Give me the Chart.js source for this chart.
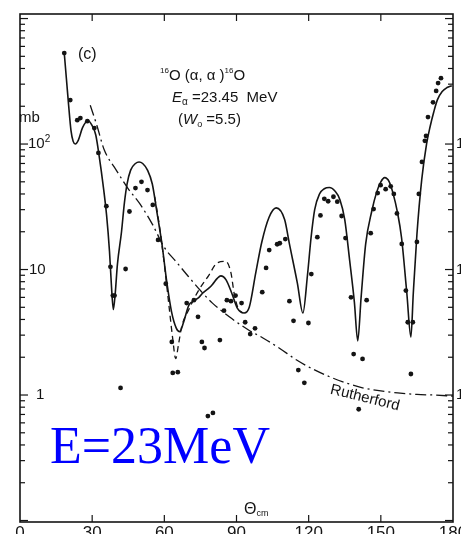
<!DOCTYPE html>
<html>
<head>
<meta charset="utf-8">
<script src="https://cdn.jsdelivr.net/npm/chart.js@4.4.0/dist/chart.umd.min.js"></script>
<style>
  html, body { margin: 0; padding: 0; background: #fff; overflow: hidden; }
  canvas { display: block; }
</style>
</head>
<body>
<canvas id="xsec" width="470" height="545"></canvas>
<script>
// 16O(alpha,alpha)16O elastic scattering, E_alpha = 23.45 MeV

// axis ticks
const xTicks = [0, 30, 60, 90, 120, 150, 180];
const xInnerTicks = [30, 60, 90, 120, 150];
const yDecades = [1, 10, 100];

// optical model fit (solid)
const thetaFit = [18.4, 19.3, 20.2, 21.2, 22.1, 23, 24.3, 26, 28.3, 30, 31.5, 33, 34.5, 36, 37.2, 38, 38.8, 39.6, 40.5, 42.2, 43.4, 44.5, 46, 48, 49.5, 51, 53, 55, 57, 59, 61, 63, 65, 66.4, 68, 70.2, 72, 74.4, 76, 78.5, 80, 82, 83.5, 85.6, 88, 90.4, 93.2, 95.3, 98, 100.5, 103.5, 106.5, 110, 112, 115.3, 117.6, 119.5, 121, 122.5, 124.5, 126.5, 128.6, 131, 133, 135, 137, 139, 140.4, 141.8, 143.7, 146.2, 148.2, 150, 151.6, 153.5, 155, 157, 158.6, 160.8, 162.5, 163.5, 165, 167, 169, 170.5, 172, 173.5, 175.5, 177.5, 179.5];
const sigmaFit = [530, 330, 205, 128, 105, 100, 108, 135, 154, 140, 118, 78, 48, 27, 14, 7.5, 4.8, 6.5, 11, 20, 34, 48, 62, 70, 72, 70, 62, 48, 28, 16, 8, 4.6, 3.4, 3.2, 3.8, 5.2, 5.6, 6.0, 6.5, 7.1, 7.6, 8.5, 8.9, 8.3, 6.5, 4.9, 4.5, 5.0, 9.4, 16.5, 26, 31, 25, 16, 7.8, 4.5, 9, 18, 30, 40, 44, 45, 42, 36, 25, 12, 5.5, 2.7, 6, 16, 29, 41, 50, 54, 50, 41, 28, 18, 6.5, 2.9, 6.5, 19, 52, 100, 138, 180, 225, 262, 282, 292];

// second fit (dashed), only where it departs from the solid one
const thetaAlt = [56, 58, 60, 62, 63.5, 64.7, 66, 67.2, 70.2, 74.4, 78.5, 82, 85.5, 87.7, 89, 90.5, 92.5];
const sigmaAlt = [38, 22, 11, 5, 2.8, 1.95, 2.6, 3.5, 4.8, 6.9, 9, 11.3, 11.6, 9.4, 6.5, 5.0, 4.5];

// Rutherford cross section (dash-dot)
const thetaRuth = [29.2, 32, 35, 40, 45, 50, 55, 60, 65, 70, 75, 80, 87, 95, 101, 108, 115, 122, 129, 136, 142.4, 150, 157, 165, 172, 180];
const sigmaRuth = [204, 140, 90, 62, 44, 33, 23, 15, 11.5, 8.8, 6.8, 5.4, 4.2, 3.3, 2.85, 2.35, 1.9, 1.6, 1.39, 1.24, 1.14, 1.08, 1.04, 1.01, 1.0, 0.98];

// measured points
const thetaExp = [18.4, 20.9, 23.8, 25.1, 28.0, 30.9, 32.6, 35.9, 37.6, 38.6, 39.3, 41.8, 43.9, 45.5, 48.0, 50.5, 53.0, 55.2, 57.4, 60.6, 63.1, 63.5, 65.6, 69.3, 72.3, 74.0, 75.6, 76.7, 78.1, 80.2, 83.1, 84.8, 86.0, 87.7, 89.6, 92.1, 93.6, 95.7, 97.7, 100.7, 102.3, 103.6, 106.9, 108.0, 110.3, 112.0, 113.7, 115.7, 118.2, 119.9, 121.1, 123.6, 124.9, 126.5, 128.1, 130.3, 131.9, 133.7, 135.3, 137.6, 138.7, 140.8, 142.4, 144.1, 145.8, 147.0, 148.7, 149.9, 152.0, 154.1, 155.4, 156.7, 158.7, 160.4, 161.2, 162.5, 163.3, 165.0, 165.8, 167.1, 168.3, 168.8, 169.6, 171.7, 173.0, 173.8, 175.0];
const sigmaExp = [531, 224, 155, 161, 152, 134, 85, 32, 10.5, 6.2, 6.2, 1.14, 10.1, 29, 44.6, 50, 43, 32.7, 17.2, 7.7, 2.65, 1.5, 1.52, 5.4, 5.7, 4.2, 2.65, 2.37, 0.68, 0.72, 2.74, 4.7, 5.7, 5.6, 6.2, 5.4, 3.8, 3.06, 3.4, 6.6, 10.3, 14.3, 15.9, 16.2, 17.5, 5.6, 3.9, 1.58, 1.25, 3.75, 9.2, 18.1, 27, 36.6, 35, 38, 34.7, 26.7, 17.8, 6.0, 2.12, 0.77, 1.94, 5.7, 19.5, 30.3, 40.7, 47, 43.7, 46, 40, 28, 16, 6.8, 3.8, 1.47, 3.8, 16.6, 40, 72, 106, 116, 164, 215, 265, 306, 335];

const toXY = (xs, ys) => xs.map((v, i) => ({ x: v, y: ys[i] }));

const INK = '#141414';
const SANS = '"Liberation Sans", Arial, sans-serif';

function drawRich(ctx, x, y, parts) {
    for (const p of parts) {
        ctx.font = p.f;
        ctx.fillText(p.t, x, y + (p.dy || 0));
        x += ctx.measureText(p.t).width;
    }
}

function decadeParts(v) {
    if (v === 100) {
        return [{ t: '10', f: '15px ' + SANS }, { t: '2', f: '10px ' + SANS, dy: -5 }];
    }
    return [{ t: String(v), f: '15px ' + SANS }];
}

// frame with inward ticks, tick labels and the annotations
const frameAndLabels = {
    id: 'frameAndLabels',
    afterDatasetsDraw(chart) {
        const { ctx, chartArea: a, scales: { x, y } } = chart;
        const seg = (x1, y1, x2, y2) => {
            ctx.beginPath();
            ctx.moveTo(x1, y1);
            ctx.lineTo(x2, y2);
            ctx.stroke();
        };
        ctx.save();
        ctx.strokeStyle = INK;
        ctx.fillStyle = INK;
        ctx.lineWidth = 1.6;
        ctx.strokeRect(a.left, a.top, a.right - a.left, a.bottom - a.top);

        ctx.lineWidth = 1.2;
        for (const t of xInnerTicks) {
            const px = x.getPixelForValue(t);
            seg(px, a.top, px, a.top + 7);
            seg(px, a.bottom, px, a.bottom - 7);
        }
        for (let d = -1; d <= 3; d++) {
            for (let m = 1; m <= 9; m++) {
                const v = m * Math.pow(10, d);
                if (v <= y.min || v >= y.max) continue;
                const py = y.getPixelForValue(v);
                const len = m === 1 ? 8 : 5;
                seg(a.left, py, a.left + len, py);
                seg(a.right, py, a.right - len, py);
            }
        }

        // x tick labels (below the frame)
        ctx.textBaseline = 'top';
        ctx.textAlign = 'center';
        ctx.font = '17px ' + SANS;
        for (const t of xTicks) {
            ctx.fillText(String(t), x.getPixelForValue(t), a.bottom + 3);
        }

        // y tick labels, inside on the left and outside on the right
        ctx.textBaseline = 'middle';
        ctx.textAlign = 'left';
        for (const v of yDecades) {
            const py = y.getPixelForValue(v);
            const lx = v === 100 ? a.left + 8 : (v === 10 ? a.left + 9 : a.left + 16);
            drawRich(ctx, lx, py, decadeParts(v));
            drawRich(ctx, a.right + 3, py, decadeParts(v));
        }
        ctx.font = '15px ' + SANS;
        ctx.fillText('mb', a.left - 1, y.getPixelForValue(100) - 26);

        // axis title
        ctx.textBaseline = 'alphabetic';
        drawRich(ctx, 244, 514, [
            { t: 'Θ', f: '16px ' + SANS },
            { t: 'cm', f: '9px ' + SANS, dy: 2 }
        ]);

        // panel tag and reaction
        ctx.font = '16px ' + SANS;
        ctx.fillText('(c)', 78, 59);
        drawRich(ctx, 160, 80, [
            { t: '16', f: '8px ' + SANS, dy: -7 },
            { t: 'O (α, α )', f: '15px ' + SANS },
            { t: '16', f: '8px ' + SANS, dy: -7 },
            { t: 'O', f: '15px ' + SANS }
        ]);
        drawRich(ctx, 172, 102, [
            { t: 'E', f: 'italic 15px ' + SANS },
            { t: 'α', f: '10px ' + SANS, dy: 3 },
            { t: ' =23.45  MeV', f: '15px ' + SANS }
        ]);
        drawRich(ctx, 178, 124, [
            { t: '(', f: '15px ' + SANS },
            { t: 'W', f: 'italic 15px ' + SANS },
            { t: 'o', f: '9px ' + SANS, dy: 3 },
            { t: ' =5.5)', f: '15px ' + SANS }
        ]);

        // curve label along the Rutherford line
        ctx.save();
        ctx.translate(365, 398);
        ctx.rotate(14 * Math.PI / 180);
        ctx.textAlign = 'center';
        ctx.textBaseline = 'middle';
        ctx.font = '15px ' + SANS;
        ctx.fillText('Rutherford', 0, 0);
        ctx.restore();

        // energy caption
        ctx.fillStyle = '#0000ff';
        ctx.textAlign = 'left';
        ctx.font = '52px "Liberation Serif", "Times New Roman", serif';
        ctx.fillText('E=23MeV', 50, 463);
        ctx.restore();
    }
};

new Chart(document.getElementById('xsec'), {
    data: {
        datasets: [
            {
                type: 'line',
                data: toXY(thetaRuth, sigmaRuth),
                borderColor: INK,
                borderWidth: 1.3,
                borderDash: [11, 4, 2, 4],
                pointRadius: 0,
                cubicInterpolationMode: 'monotone'
            },
            {
                type: 'line',
                data: toXY(thetaAlt, sigmaAlt),
                borderColor: INK,
                borderWidth: 1.3,
                borderDash: [6, 4],
                pointRadius: 0,
                cubicInterpolationMode: 'monotone'
            },
            {
                type: 'line',
                data: toXY(thetaFit, sigmaFit),
                borderColor: INK,
                borderWidth: 1.6,
                pointRadius: 0,
                cubicInterpolationMode: 'monotone'
            },
            {
                type: 'scatter',
                data: toXY(thetaExp, sigmaExp),
                backgroundColor: INK,
                borderWidth: 0,
                pointRadius: 2.4
            }
        ]
    },
    options: {
        responsive: false,
        animation: false,
        devicePixelRatio: 1,
        layout: { padding: { left: 20, top: 14, right: 17, bottom: 23 } },
        plugins: { legend: { display: false }, tooltip: { enabled: false } },
        scales: {
            x: { type: 'linear', min: 0, max: 180, display: false },
            y: { type: 'logarithmic', min: 0.0973, max: 1087, display: false }
        }
    },
    plugins: [frameAndLabels]
});
</script>
</body>
</html>
